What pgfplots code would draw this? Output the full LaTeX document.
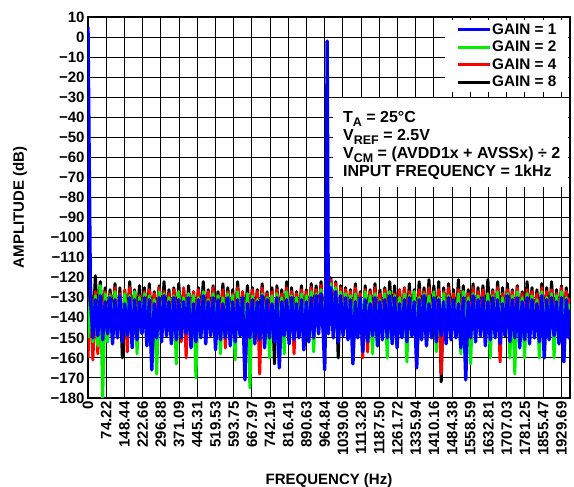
\documentclass[border=0pt]{standalone}
\usepackage{pgfplots}
\pgfplotsset{compat=1.18}
\usepackage{pgfplotstable}
\usepackage{fontspec}
\setmainfont{Liberation Sans}
\definecolor{cblue}{RGB}{0,0,255}
\definecolor{cgreen}{RGB}{0,240,0}
\definecolor{cred}{RGB}{255,0,0}
\pgfplotstableread{
f b g r k
0 5 -150 -160 -142
10 -130 -128 -126 -124
20 -150 -152 -161 -146
30 -131 -129 -127 -119
40 -149 -154 -158 -144
50 -129 -124 -126 -122
60 -151 -180 -145 -142
70 -132 -128 -127 -125
80 -148 -152 -150 -143
90 -130 -129 -128 -126
100 -153 -146 -150 -141
110 -131 -127 -125 -123
120 -150 -144 -143 -149
130 -129 -130 -128 -125
140 -152 -145 -147 -160
150 -133 -128 -126 -127
160 -149 -143 -157 -142
170 -130 -129 -125 -122
180 -155 -146 -144 -143
190 -131 -127 -128 -126
200 -151 -158 -145 -141
210 -132 -130 -129 -124
220 -148 -144 -142 -144
230 -130 -128 -127 -125
240 -154 -147 -146 -142
250 -131 -129 -126 -123
260 -166 -150 -144 -145
270 -133 -131 -128 -127
280 -150 -168 -143 -141
290 -130 -127 -125 -124
300 -152 -145 -146 -143
310 -129 -128 -127 -122
320 -149 -146 -144 -142
330 -132 -130 -128 -126
340 -153 -147 -145 -144
350 -130 -129 -126 -125
360 -151 -163 -146 -143
370 -131 -127 -127 -123
380 -150 -145 -152 -141
390 -132 -130 -125 -126
400 -148 -144 -160 -142
410 -130 -128 -128 -124
420 -155 -146 -144 -145
430 -133 -129 -127 -127
440 -152 -170 -145 -143
450 -131 -130 -126 -125
460 -150 -147 -143 -141
470 -129 -127 -128 -122
480 -153 -148 -146 -144
490 -132 -131 -127 -126
500 -149 -145 -144 -142
510 -130 -128 -125 -124
520 -156 -146 -145 -143
530 -131 -129 -129 -127
540 -151 -158 -143 -141
550 -133 -130 -126 -123
560 -150 -147 -155 -145
570 -130 -128 -127 -125
580 -154 -145 -146 -142
590 -132 -129 -128 -126
600 -152 -161 -144 -143
610 -131 -127 -125 -122
620 -149 -146 -145 -144
630 -130 -130 -127 -127
640 -171 -147 -146 -141
650 -133 -128 -128 -124
660 -150 -175 -143 -143
670 -131 -129 -126 -125
680 -153 -146 -145 -142
690 -132 -131 -127 -126
700 -151 -148 -168 -144
710 -129 -128 -125 -123
720 -155 -145 -144 -141
730 -131 -130 -128 -127
740 -150 -160 -146 -143
750 -133 -129 -127 -125
760 -152 -147 -145 -163
770 -130 -128 -126 -124
780 -165 -146 -143 -142
790 -132 -130 -128 -126
800 -149 -158 -146 -144
810 -131 -127 -125 -122
820 -153 -145 -144 -143
830 -130 -129 -127 -125
840 -151 -147 -158 -141
850 -133 -130 -128 -127
860 -150 -146 -145 -142
870 -131 -128 -126 -124
880 -156 -148 -146 -144
890 -132 -129 -127 -126
900 -152 -145 -144 -143
910 -130 -127 -125 -123
920 -150 -157 -145 -141
930 -129 -128 -126 -124
940 -148 -146 -143 -142
950 -128 -126 -124 -122
960 -150 -145 -144 -143
965 -166 -146 -145 -144
970 -126 -124 -122 -121
975 -2 -125 -123 -122
980 -148 -144 -142 -140
990 -125 -123 -121 -120
1000 -150 -146 -145 -142
1010 -127 -125 -123 -122
1020 -152 -146 -144 -160
1030 -129 -127 -125 -124
1040 -149 -145 -143 -142
1050 -130 -128 -126 -125
1060 -151 -147 -146 -143
1070 -131 -129 -127 -126
1080 -163 -146 -145 -144
1090 -132 -128 -125 -123
1100 -150 -145 -144 -142
1110 -130 -130 -128 -127
1120 -157 -147 -160 -157
1130 -131 -127 -126 -124
1140 -152 -146 -157 -143
1150 -133 -129 -127 -126
1160 -149 -158 -145 -141
1170 -130 -128 -125 -123
1180 -154 -145 -144 -144
1190 -132 -131 -128 -126
1200 -151 -147 -146 -142
1210 -131 -128 -126 -125
1220 -150 -160 -143 -143
1230 -129 -127 -127 -122
1240 -153 -146 -145 -141
1250 -130 -129 -128 -124
1260 -155 -148 -146 -144
1270 -133 -130 -126 -127
1280 -150 -145 -144 -142
1290 -131 -128 -125 -125
1300 -152 -162 -145 -143
1310 -130 -129 -127 -123
1320 -149 -146 -143 -142
1330 -132 -127 -128 -126
1340 -165 -147 -146 -144
1350 -131 -130 -126 -122
1360 -151 -145 -144 -141
1370 -129 -128 -127 -125
1380 -154 -146 -152 -143
1390 -133 -129 -125 -121
1400 -150 -148 -145 -142
1410 -130 -127 -128 -124
1420 -152 -157 -146 -144
1430 -131 -130 -126 -122
1440 -149 -146 -168 -172
1450 -132 -128 -127 -125
1460 -153 -145 -144 -143
1470 -130 -129 -125 -123
1480 -151 -147 -146 -141
1490 -131 -131 -128 -126
1500 -150 -146 -145 -144
1510 -133 -128 -126 -121
1520 -155 -158 -143 -142
1530 -130 -127 -127 -124
1540 -171 -146 -144 -143
1550 -132 -130 -128 -126
1560 -150 -163 -145 -141
1570 -129 -128 -125 -123
1580 -152 -145 -146 -144
1590 -131 -129 -127 -125
1600 -149 -147 -143 -142
1610 -130 -131 -126 -124
1620 -154 -146 -144 -143
1630 -132 -128 -128 -121
1640 -151 -160 -146 -141
1650 -130 -129 -127 -126
1660 -150 -145 -145 -144
1670 -131 -127 -125 -122
1680 -153 -147 -162 -142
1690 -133 -130 -128 -125
1700 -149 -146 -144 -143
1710 -129 -128 -126 -123
1720 -152 -160 -146 -141
1730 -131 -129 -127 -126
1740 -150 -168 -143 -144
1750 -130 -127 -125 -124
1760 -155 -146 -145 -142
1770 -132 -130 -128 -127
1780 -151 -160 -144 -143
1790 -130 -128 -126 -122
1800 -153 -147 -146 -141
1810 -131 -129 -127 -125
1820 -150 -145 -143 -144
1830 -133 -131 -128 -126
1840 -152 -160 -145 -142
1850 -129 -127 -125 -123
1860 -160 -146 -144 -143
1870 -131 -130 -127 -125
1880 -151 -148 -146 -141
1890 -130 -128 -126 -122
1900 -149 -160 -145 -144
1910 -132 -129 -128 -126
1920 -153 -146 -143 -142
1930 -130 -127 -125 -124
1940 -162 -147 -146 -143
1950 -131 -130 -127 -125
1960 -150 -146 -144 -141
1965 -136 -133 -130 -128
}\data
\begin{document}
\begin{tikzpicture}
\begin{axis}[
  scale only axis, width=482pt, height=381pt,
  xmin=0, xmax=1965, ymin=-180, ymax=10,
  font=\bfseries\fontsize{15}{17}\selectfont,
  axis line style={line width=1.6pt},
  grid=major, major grid style={black, line width=0.9pt},
  major tick length=4pt, every tick/.style={black, line width=0.9pt},
  xtick={0,74.22,148.44,222.66,296.88,371.09,445.31,519.53,593.75,667.97,742.19,816.41,890.63,964.84,1039.06,1113.28,1187.50,1261.72,1335.94,1410.16,1484.38,1558.59,1632.81,1707.03,1781.25,1855.47,1929.69},
  xticklabels={0,74.22,148.44,222.66,296.88,371.09,445.31,519.53,593.75,667.97,742.19,816.41,890.63,964.84,1039.06,1113.28,1187.50,1261.72,1335.94,1410.16,1484.38,1558.59,1632.81,1707.03,1781.25,1855.47,1929.69},
  xticklabel style={rotate=90, anchor=east},
  ytick={-180,-170,...,10},
  yticklabels={−180,−170,−160,−150,−140,−130,−120,−110,−100,−90,−80,−70,−60,−50,−40,−30,−20,−10,0,10},
  xlabel={FREQUENCY (Hz)}, ylabel={AMPLITUDE (dB)},
  xlabel style={at={(axis description cs:0.5,-0.217)}, anchor=center},
  ylabel style={at={(axis description cs:-0.141,0.5)}, anchor=center},
  reverse legend,
  legend style={at={(rel axis cs:0.997,0.992)}, anchor=north east, fill=white, draw=none,
    inner xsep=11pt, inner ysep=2pt,
    font=\bfseries\fontsize{15.3}{16}\selectfont, row sep=2pt,
    nodes={inner sep=1pt, text height=11pt, text depth=2.5pt}},
  legend image code/.code={\draw[#1, line width=3pt] (0pt,0pt) -- (32pt,0pt);},
]
\addplot[black, line width=3pt, line join=round] table[x=f,y=k]{\data};
\addlegendentry{GAIN = 8}
\addplot[cred, line width=3pt, line join=round] table[x=f,y=r]{\data};
\addlegendentry{GAIN = 4}
\addplot[cgreen, line width=3pt, line join=round] table[x=f,y=g]{\data};
\addlegendentry{GAIN = 2}
\addplot[cblue, line width=3.4pt, line join=round] table[x=f,y=b]{\data};
\addlegendentry{GAIN = 1}
\node[fill=white, anchor=north west, inner sep=0pt, minimum width=235pt, minimum height=89pt]
  at (rel axis cs:0.508,0.788) {};
\node[anchor=north west, align=left, inner sep=0pt,
  font=\bfseries\fontsize{16}{18}\selectfont] at (rel axis cs:0.529,0.753)
  {T\raisebox{-0.45ex}{\fontsize{12.5}{12}\selectfont A} = 25°C\\
   V\raisebox{-0.45ex}{\fontsize{12.5}{12}\selectfont REF} = 2.5V\\
   V\raisebox{-0.45ex}{\fontsize{12.5}{12}\selectfont CM} = (AVDD1x + AVSSx) ÷ 2\\
   INPUT FREQUENCY = 1kHz};
\coordinate (bl) at (rel axis cs:0,0);
\coordinate (tr) at (rel axis cs:1,1);
\end{axis}
\pgfresetboundingbox
\path ([shift={(-88pt,-89pt)}]bl) rectangle ([shift={(4pt,17pt)}]tr);
\end{tikzpicture}
\end{document}
